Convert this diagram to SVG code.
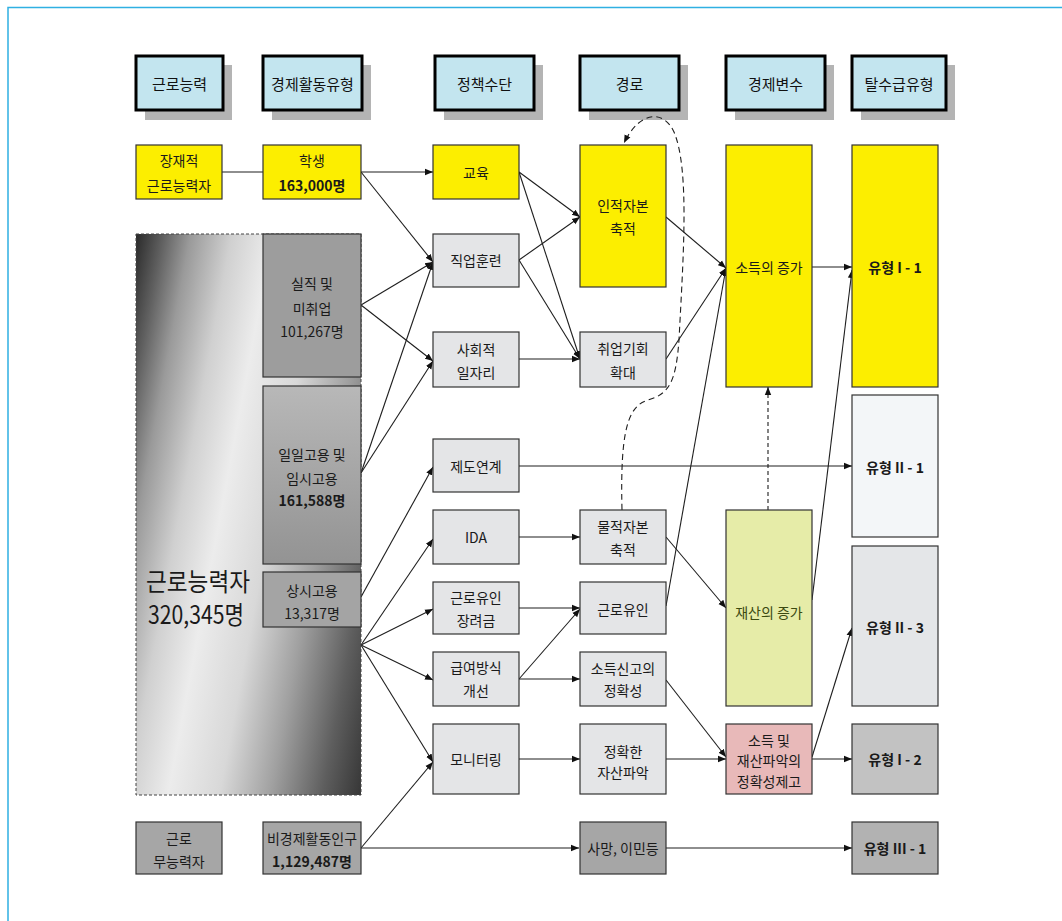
<svg xmlns="http://www.w3.org/2000/svg" width="1062" height="921" viewBox="0 0 1062 921">
<defs>
<style>
.t{font-family:"Noto Sans CJK KR","Noto Sans",sans-serif;font-size:14px;fill:#1a1a1a;text-anchor:middle;dominant-baseline:central}
.h{font-family:"Noto Sans CJK KR","Noto Sans",sans-serif;font-size:15px;fill:#111;text-anchor:middle;dominant-baseline:central}
.b{font-weight:bold}
.hd{fill:#c3e5ef;stroke:#000;stroke-width:3}
.sh{fill:#b4b4b4}
.n{stroke:#333;stroke-width:1.2}
.yel{fill:#fcee00}
.lg{fill:#e4e5e7}
.dg{fill:#a6a6a6}
.c{fill:none;stroke:#1e1e1e;stroke-width:1.1}
</style>
<marker id="arr" viewBox="0 0 10 10" refX="10" refY="5" markerWidth="8" markerHeight="8" markerUnits="userSpaceOnUse" orient="auto"><path d="M0,1 L10,5 L0,9 z" fill="#111"/></marker>
<linearGradient id="big" gradientUnits="userSpaceOnUse" x1="136" y1="234" x2="467" y2="296">
<stop offset="0" stop-color="#2a2a2a"/>
<stop offset="0.08" stop-color="#606060"/>
<stop offset="0.16" stop-color="#9a9a9a"/>
<stop offset="0.28" stop-color="#d0d0d0"/>
<stop offset="0.4" stop-color="#ececec"/>
<stop offset="0.55" stop-color="#d8d8d8"/>
<stop offset="0.7" stop-color="#a0a0a0"/>
<stop offset="0.85" stop-color="#5e5e5e"/>
<stop offset="1" stop-color="#2a2a2a"/>
</linearGradient>
<linearGradient id="g2" x1="0" y1="0" x2="0" y2="1">
<stop offset="0" stop-color="#b8b8b8"/>
<stop offset="1" stop-color="#939393"/>
</linearGradient>
</defs>
<rect x="0" y="0" width="1062" height="921" fill="#fff"/>
<path d="M8,921 V7.5 H1062" fill="none" stroke="#2fb0e2" stroke-width="1.5"/>

<g id="headers">
<g id="h1"><rect class="sh" x="145" y="65" width="87" height="55"/><rect class="hd" x="136" y="56" width="87" height="54"/><text class="h" x="179.5" y="83">근로능력</text></g>
<g id="h2"><rect class="sh" x="272" y="65" width="99" height="55"/><rect class="hd" x="263" y="56" width="99" height="54"/><text class="h" x="312.5" y="83">경제활동유형</text></g>
<g id="h3"><rect class="sh" x="444" y="65" width="99" height="55"/><rect class="hd" x="435" y="56" width="99" height="54"/><text class="h" x="484.5" y="83">정책수단</text></g>
<g id="h4"><rect class="sh" x="589" y="65" width="99" height="55"/><rect class="hd" x="580" y="56" width="99" height="54"/><text class="h" x="629.5" y="83">경로</text></g>
<g id="h5"><rect class="sh" x="735" y="65" width="99" height="55"/><rect class="hd" x="726" y="56" width="99" height="54"/><text class="h" x="775.5" y="83">경제변수</text></g>
<g id="h6"><rect class="sh" x="861" y="65" width="94" height="55"/><rect class="hd" x="852" y="56" width="94" height="54"/><text class="h" x="899" y="83">탈수급유형</text></g>
</g>

<g id="connectors">
<line class="c" x1="222" y1="172" x2="263" y2="172"/>
<line class="c" x1="361" y1="172" x2="433" y2="172" marker-end="url(#arr)"/>
<line class="c" x1="361" y1="172" x2="433" y2="262" marker-end="url(#arr)"/>
<line class="c" x1="361" y1="305" x2="433" y2="262" marker-end="url(#arr)"/>
<line class="c" x1="361" y1="305" x2="433" y2="361" marker-end="url(#arr)"/>
<line class="c" x1="361" y1="473" x2="433" y2="262" marker-end="url(#arr)"/>
<line class="c" x1="361" y1="473" x2="433" y2="361" marker-end="url(#arr)"/>
<line class="c" x1="361" y1="597" x2="433" y2="467" marker-end="url(#arr)"/>
<line class="c" x1="361" y1="645" x2="433" y2="539" marker-end="url(#arr)"/>
<line class="c" x1="361" y1="645" x2="433" y2="609" marker-end="url(#arr)"/>
<line class="c" x1="361" y1="645" x2="433" y2="680" marker-end="url(#arr)"/>
<line class="c" x1="361" y1="645" x2="433" y2="762" marker-end="url(#arr)"/>
<line class="c" x1="361" y1="848" x2="433" y2="762" marker-end="url(#arr)"/>
<line class="c" x1="361" y1="848" x2="579" y2="848" marker-end="url(#arr)"/>
<line class="c" x1="666" y1="848" x2="852" y2="848" marker-end="url(#arr)"/>
<line class="c" x1="519" y1="172" x2="580" y2="217" marker-end="url(#arr)"/>
<line class="c" x1="519" y1="172" x2="580" y2="359" marker-end="url(#arr)"/>
<line class="c" x1="519" y1="260" x2="580" y2="217" marker-end="url(#arr)"/>
<line class="c" x1="519" y1="260" x2="580" y2="359" marker-end="url(#arr)"/>
<line class="c" x1="519" y1="359" x2="580" y2="359" marker-end="url(#arr)"/>
<line class="c" x1="666" y1="217" x2="726" y2="268" marker-end="url(#arr)"/>
<line class="c" x1="666" y1="359" x2="726" y2="268" marker-end="url(#arr)"/>
<line class="c" x1="666" y1="606" x2="726" y2="268" marker-end="url(#arr)"/>
<line class="c" x1="812" y1="267" x2="852" y2="267" marker-end="url(#arr)"/>
<line class="c" x1="812" y1="600" x2="852" y2="270" marker-end="url(#arr)"/>
<line class="c" x1="768" y1="510" x2="768" y2="387" stroke-dasharray="4,3" marker-end="url(#arr)"/>
<path class="c" d="M622,510 C620,430 628,406 648,400 C670,394 676,380 679,340 C683,260 690,170 674,132 C664,110 640,110 624,143" stroke-dasharray="6,4" marker-end="url(#arr)"/>
<line class="c" x1="519" y1="466" x2="852" y2="466" marker-end="url(#arr)"/>
<line class="c" x1="519" y1="537" x2="580" y2="537" marker-end="url(#arr)"/>
<line class="c" x1="666" y1="537" x2="726" y2="608" marker-end="url(#arr)"/>
<line class="c" x1="519" y1="608" x2="580" y2="608" marker-end="url(#arr)"/>
<line class="c" x1="519" y1="679" x2="580" y2="609" marker-end="url(#arr)"/>
<line class="c" x1="519" y1="679" x2="580" y2="679" marker-end="url(#arr)"/>
<line class="c" x1="666" y1="680" x2="726" y2="757" marker-end="url(#arr)"/>
<line class="c" x1="519" y1="759" x2="580" y2="759" marker-end="url(#arr)"/>
<line class="c" x1="666" y1="759" x2="726" y2="759" marker-end="url(#arr)"/>
<line class="c" x1="812" y1="759" x2="852" y2="759" marker-end="url(#arr)"/>
<line class="c" x1="812" y1="757" x2="852" y2="628" marker-end="url(#arr)"/>
</g>

<g id="n-able-big"><rect x="136" y="234" width="225" height="561" fill="url(#big)" stroke="#444" stroke-width="1" stroke-dasharray="3,2"/>
<text class="t" x="198" y="580" style="font-size:25px" textLength="104" lengthAdjust="spacingAndGlyphs">근로능력자</text>
<text class="t" x="196" y="613" style="font-size:25px" textLength="96" lengthAdjust="spacingAndGlyphs">320,345명</text></g>
<g id="n-potential"><rect class="n yel" x="136" y="145" width="86" height="54"/><text class="t" x="179" y="160">장재적</text><text class="t" x="179" y="185">근로능력자</text></g>
<g id="n-student"><rect class="n yel" x="263" y="145" width="98" height="54"/><text class="t" x="312" y="160">학생</text><text class="t b" x="312" y="185">163,000명</text></g>
<g id="n-unemp"><rect class="n" x="263" y="234" width="98" height="143" fill="#9d9d9d"/><text class="t" x="312" y="283">실직 및</text><text class="t" x="312" y="308">미취업</text><text class="t" x="312" y="331">101,267명</text></g>
<g id="n-daily"><rect class="n" x="263" y="386" width="98" height="178" fill="url(#g2)"/><text class="t" x="312" y="454">일일고용 및</text><text class="t" x="312" y="478">임시고용</text><text class="t b" x="312" y="500">161,588명</text></g>
<g id="n-regular"><rect class="n" x="263" y="572" width="98" height="55" fill="#a4a4a4"/><text class="t" x="312" y="590">상시고용</text><text class="t" x="312" y="613">13,317명</text></g>
<g id="n-unable"><rect class="n dg" x="136" y="822" width="86" height="52"/><text class="t" x="179" y="838">근로</text><text class="t" x="179" y="861">무능력자</text></g>
<g id="n-inactive"><rect class="n dg" x="263" y="822" width="98" height="52"/><text class="t" x="312" y="838">비경제활동인구</text><text class="t b" x="312" y="861">1,129,487명</text></g>

<g id="n-edu"><rect class="n yel" x="433" y="145" width="86" height="54"/><text class="t" x="476" y="172">교육</text></g>
<g id="n-train"><rect class="n lg" x="433" y="234" width="86" height="53"/><text class="t" x="476" y="260">직업훈련</text></g>
<g id="n-social"><rect class="n lg" x="433" y="332" width="86" height="55"/><text class="t" x="476" y="349">사회적</text><text class="t" x="476" y="372">일자리</text></g>
<g id="n-link"><rect class="n lg" x="433" y="439" width="86" height="53"/><text class="t" x="476" y="466">제도연계</text></g>
<g id="n-ida"><rect class="n lg" x="433" y="510" width="86" height="54"/><text class="t" x="476" y="537">IDA</text></g>
<g id="n-incent"><rect class="n lg" x="433" y="582" width="86" height="52"/><text class="t" x="476" y="597">근로유인</text><text class="t" x="476" y="620">장려금</text></g>
<g id="n-pay"><rect class="n lg" x="433" y="652" width="86" height="54"/><text class="t" x="476" y="667">급여방식</text><text class="t" x="476" y="690">개선</text></g>
<g id="n-monitor"><rect class="n lg" x="433" y="724" width="86" height="70"/><text class="t" x="476" y="759">모니터링</text></g>

<g id="n-human"><rect class="n yel" x="580" y="145" width="86" height="142"/><text class="t" x="623" y="205">인적자본</text><text class="t" x="623" y="228">축적</text></g>
<g id="n-jobs"><rect class="n lg" x="580" y="332" width="86" height="55"/><text class="t" x="623" y="348">취업기회</text><text class="t" x="623" y="372">확대</text></g>
<g id="n-phys"><rect class="n lg" x="580" y="510" width="86" height="54"/><text class="t" x="623" y="526">물적자본</text><text class="t" x="623" y="549">축적</text></g>
<g id="n-work"><rect class="n lg" x="580" y="582" width="86" height="52"/><text class="t" x="623" y="609">근로유인</text></g>
<g id="n-report"><rect class="n lg" x="580" y="652" width="86" height="54"/><text class="t" x="623" y="668">소득신고의</text><text class="t" x="623" y="690">정확성</text></g>
<g id="n-asset"><rect class="n lg" x="580" y="724" width="86" height="70"/><text class="t" x="623" y="751">정확한</text><text class="t" x="623" y="772">자산파악</text></g>
<g id="n-death"><rect class="n dg" x="580" y="822" width="86" height="52"/><text class="t" x="623" y="848">사망, 이민등</text></g>

<g id="n-income"><rect class="n yel" x="726" y="145" width="86" height="242"/><text class="t" x="769" y="267">소득의 증가</text></g>
<g id="n-wealth"><rect class="n" x="726" y="510" width="86" height="196" fill="#e6eca8"/><text class="t" x="769" y="612" style="fill:#3c4a10">재산의 증가</text></g>
<g id="n-accuracy"><rect class="n" x="726" y="724" width="86" height="70" fill="#e8b9b9"/><text class="t" x="769" y="740">소득 및</text><text class="t" x="769" y="760">재산파악의</text><text class="t" x="769" y="781">정확성제고</text></g>

<g id="n-t11"><rect class="n yel" x="852" y="145" width="86" height="242"/><text class="t b" x="895" y="267">유형 I - 1</text></g>
<g id="n-t21"><rect class="n" x="852" y="395" width="86" height="142" fill="#f3f6f8"/><text class="t b" x="895" y="467">유형 II - 1</text></g>
<g id="n-t23"><rect class="n" x="852" y="546" width="86" height="160" fill="#e4e6e8"/><text class="t b" x="895" y="627">유형 II - 3</text></g>
<g id="n-t12"><rect class="n" x="852" y="724" width="86" height="70" fill="#c2c2c2"/><text class="t b" x="895" y="759">유형 I - 2</text></g>
<g id="n-t31"><rect class="n" x="852" y="822" width="86" height="52" fill="#b2b2b2"/><text class="t b" x="895" y="848">유형 III - 1</text></g>
</svg>
